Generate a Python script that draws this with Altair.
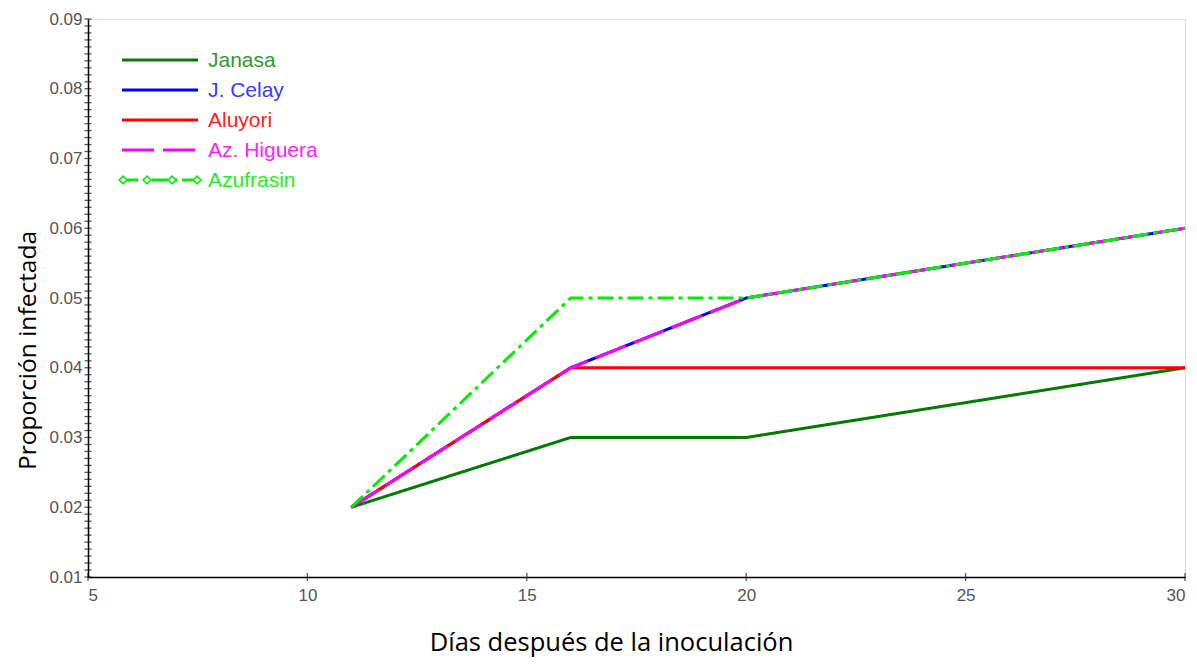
import altair as alt
import pandas as pd

days = [11, 16, 20, 30]
series_names = ["Janasa", "J. Celay", "Aluyori", "Az. Higuera", "Azufrasin"]
janasa = [0.02, 0.03, 0.03, 0.04]
j_celay = [0.02, 0.04, 0.05, 0.06]
aluyori = [0.02, 0.04, 0.04, 0.04]
az_higuera = [0.02, 0.04, 0.05, 0.06]
azufrasin = [0.02, 0.05, 0.05, 0.06]
values = [janasa, j_celay, aluyori, az_higuera, azufrasin]

x_ticks = [5, 10, 15, 20, 25, 30]
y_ticks = [0.01, 0.02, 0.03, 0.04, 0.05, 0.06, 0.07, 0.08, 0.09]
y_minor = [round(0.01 + i * 0.001, 3) for i in range(81)]

colors = ["#007a00", "#0000ff", "#ff0000", "#ff00ff", "#00ee00"]
label_colors = ["#2e9a2e", "#3a3aff", "#ff2020", "#ff22ff", "#22ee22"]
dashes = [[1, 0], [1, 0], [1, 0], [32, 9], [16, 5, 4, 5]]

W, H = 1097, 558
xs = alt.Scale(domain=[5, 30], nice=False, zero=False)
ys = alt.Scale(domain=[0.01, 0.09], nice=False, zero=False)

font_lbl = "Liberation Sans, Arial"
font_legend = "Liberation Sans, Arial"
font_title = "Open Sans"

layers = []

# tick crosses on the y axis
ticks_df = pd.DataFrame({"v": y_minor})
layers.append(
    alt.Chart(ticks_df).mark_tick(color="#111", thickness=1.3, size=7, orient="horizontal").encode(
        x=alt.value(0),
        y=alt.Y("v:Q", scale=ys,
                axis=alt.Axis(values=y_ticks, format=".2f", title="Proporción infectada",
                              titleFont=font_title, titleFontSize=24.5, titleFontWeight="normal",
                              titleColor="#000", titleAngle=-90, titleX=-53, titleY=331,
                              titleAlign="center", titleBaseline="alphabetic",
                              labelFont=font_lbl, labelFontSize=17, labelColor="#555",
                              labelPadding=6, ticks=False, domainColor="#000",
                              domainWidth=1.5, grid=False)),
    )
)

# tick crosses on the x axis
xt_df = pd.DataFrame({"d": x_ticks})
layers.append(
    alt.Chart(xt_df).mark_tick(color="#111", thickness=1.3, size=8, orient="vertical").encode(
        y=alt.value(H),
        x=alt.X("d:Q", scale=xs,
                axis=alt.Axis(values=x_ticks, title="Días después de la inoculación",
                              titleFont=font_title, titleFontSize=25.5, titleFontWeight="normal",
                              titleColor="#000", titleX=523, titleY=73,
                              titleAlign="center", titleBaseline="alphabetic",
                              labelFont=font_lbl, labelFontSize=17, labelColor="#555",
                              labelPadding=10, ticks=False,
                              domainColor="#000", domainWidth=1.5, grid=False)),
    )
)

for i, name in enumerate(series_names):
    df = pd.DataFrame({"d": days, "p": values[i], "s": name})
    layers.append(
        alt.Chart(df).mark_line(color=colors[i], strokeWidth=3, strokeDash=dashes[i],
                                strokeCap="butt").encode(
            x=alt.X("d:Q", scale=xs), y=alt.Y("p:Q", scale=ys)
        )
    )

# manual legend inside plot
row_y = [41, 71, 101, 131, 161]
for i, name in enumerate(series_names):
    ldf = pd.DataFrame({"s": [name]})
    base = alt.Chart(ldf)
    layers.append(
        base.mark_rule(color=colors[i], strokeWidth=3, strokeDash=dashes[i]).encode(
            x=alt.value(34), x2=alt.value(110), y=alt.value(row_y[i])
        )
    )
    layers.append(
        base.mark_text(align="left", baseline="middle", font=font_legend, fontSize=21,
                       color=label_colors[i]).encode(
            x=alt.value(120), y=alt.value(row_y[i] + 1), text="s:N"
        )
    )
    if name == "Azufrasin":
        for px in [35, 59, 84, 109]:
            layers.append(
                base.mark_point(shape="diamond", filled=True, fill="white", stroke=colors[i],
                                strokeWidth=1.5, size=60, opacity=1).encode(
                    x=alt.value(px), y=alt.value(row_y[i])
                )
            )

chart = alt.layer(*layers).properties(
    width=W, height=H,
    autosize=alt.AutoSizeParams(type="none"),
    padding={"left": 80, "top": 11, "right": 4, "bottom": 80},
).configure_view(stroke="#666", strokeWidth=1.5).configure(background="white")

chart.save("out.html", embed_options={"renderer": "svg", "actions": False})
